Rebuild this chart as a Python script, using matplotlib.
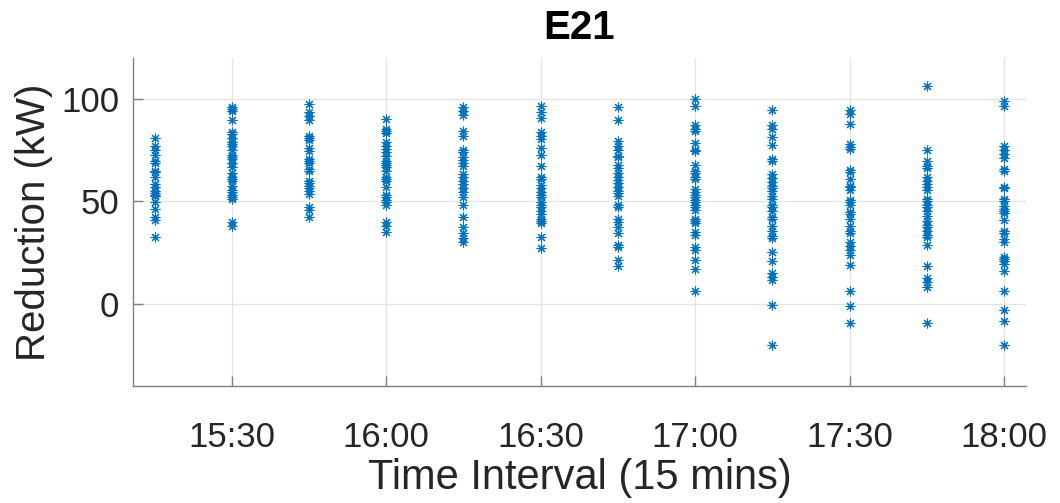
import matplotlib
matplotlib.use("Agg")
import matplotlib.pyplot as plt
import numpy as np

plt.rcParams['font.family'] = ['Liberation Sans', 'DejaVu Sans']

# Interval start times (15-minute steps) and the reductions observed in each
intervals = ["15:15", "15:30", "15:45", "16:00", "16:15", "16:30",
             "16:45", "17:00", "17:15", "17:30", "17:45", "18:00"]

r_1515 = [81, 77.2, 75.1, 72.8, 69.9, 68.6, 64.7, 64.2, 61.8, 58.5, 56.9, 55.3,
          54, 53.3, 52.5, 49.6, 46.3, 42.3, 41.1, 32.8]
r_1530 = [96.3, 95.1, 94, 89.8, 84.1, 82.9, 81, 78.9, 78, 77.2, 75.1, 72.8, 71.8,
          70.7, 68.6, 66.7, 63.7, 61.8, 61, 59.8, 57.7, 55.6, 54.5, 53.3, 52.4,
          51.2, 39.8, 38.2]
r_1545 = [97.6, 93.5, 91.9, 89.8, 82.1, 81, 80, 76.1, 74.8, 70.7, 69.9, 68.6,
          65.9, 64.7, 60.2, 58.9, 57.7, 56.6, 55.3, 53.7, 47.2, 45.9, 42.3]
r_1600 = [90.2, 85.4, 84.2, 83.3, 78.9, 77.2, 75.6, 74, 72.4, 69.9, 68.6, 68,
          66.7, 65, 62.1, 61, 60.2, 56.9, 53.3, 52, 50.7, 49.6, 48.5, 39.8, 38.2, 35]
r_1615 = [96.3, 94.3, 92.4, 84.6, 82.1, 75.1, 74, 71.9, 70.2, 68.6, 67.5, 63.4,
          62.1, 59.8, 58.5, 56.6, 54.5, 52, 48.5, 42.3, 37.7, 34.5, 32.2, 30.1]
r_1630 = [96.7, 93.5, 90.6, 83.7, 82.1, 80.5, 76.1, 72.8, 67.5, 62.1, 61, 58.2,
          56.6, 54.5, 53.3, 52, 49.6, 48.5, 47.2, 45.5, 43.9, 41.5, 40.3, 39.3,
          32.8, 27.3]
r_1645 = [96.3, 89.8, 79.3, 77.2, 75.1, 72.4, 71.9, 68, 66.3, 63.7, 62.1, 60.5,
          58.9, 56.9, 55.3, 54, 52.8, 48.5, 47.5, 41.5, 39.8, 37.4, 34.5, 28.9,
          28, 21.5, 18.7]
r_1700 = [100, 96.7, 87.5, 85.4, 84.2, 78.4, 75.1, 74.5, 68, 64.7, 63.7, 62.1,
          61, 56.1, 54.5, 53.3, 52, 50.7, 49.6, 48.5, 47.2, 45.9, 41.5, 40.3,
          39.3, 35, 33.8, 27.6, 26.3, 21.5, 17.1, 6.2]
r_1715 = [94.6, 87.5, 85.4, 81.6, 77.7, 70.7, 69.6, 63.4, 61.5, 59.3, 57.7, 56.6,
          55, 52.8, 51.2, 48.5, 47.2, 45.5, 42.6, 41.5, 38.2, 35.8, 33.3, 32.2,
          25.2, 20.8, 15, 13.3, 11.7, -0.3, -19.8]
r_1730 = [94.6, 92.7, 87.8, 78, 76.7, 75.6, 65.4, 64.2, 61, 57.7, 56.9, 55.6,
          50.7, 49.6, 48.5, 44.7, 43.9, 41.5, 38.2, 35.8, 34.5, 30.1, 28.5, 26.3,
          24.1, 19.2, 6.2, -0.8, -9.4]
r_1745 = [106.5, 75.1, 69.6, 67.5, 66.3, 61.8, 60.2, 58.5, 56.9, 55.6, 51.2,
          50.1, 48.5, 47.2, 45.5, 43.1, 40.7, 38.7, 37.4, 35.8, 33.8, 32.5, 28.9,
          18.7, 12.7, 10.6, 8.1, -9.4]
r_1800 = [98.9, 96.7, 77.2, 75.1, 73.2, 71.2, 65.9, 64.7, 57.2, 56.6, 51.2, 50.1,
          48, 46.3, 45.2, 44.2, 41, 35.8, 34.5, 31.7, 30.1, 23.1, 22, 20.8, 19.5,
          15.9, 6.2, -2.9, -8.1, -19.8]

reductions = [r_1515, r_1530, r_1545, r_1600, r_1615, r_1630,
              r_1645, r_1700, r_1715, r_1730, r_1745, r_1800]

tick_labels = ["15:30", "16:00", "16:30", "17:00", "17:30", "18:00"]


def to_minutes(hhmm):
    h, m = hhmm.split(":")
    return int(h) * 60 + int(m)


blue = "#0072BD"
axis_gray = "#262626"

fig = plt.figure(figsize=(10.6, 5.03), dpi=100)
ax = fig.add_axes([0.1255, 0.2326, 0.8425, 0.6521])

for t, vals in zip(intervals, reductions):
    x = np.full(len(vals), to_minutes(t))
    ax.plot(x, vals, linestyle="none", marker=(8, 2, 0), markersize=7,
            markeredgewidth=0.8, color=blue)

ax.set_xlim(to_minutes("15:15") - 4.2, to_minutes("18:00") + 4.3)
ax.set_ylim(-40, 120)
ax.set_xticks([to_minutes(t) for t in tick_labels])
ax.set_xticklabels(tick_labels)
ax.set_yticks([0, 50, 100])

ax.grid(True, color="#e3e3e3", linewidth=0.9)
ax.set_axisbelow(True)
for side in ("top", "right"):
    ax.spines[side].set_visible(False)
for side in ("left", "bottom"):
    ax.spines[side].set_color("#808080")
    ax.spines[side].set_linewidth(1.0)

ax.tick_params(direction="in", length=7, width=1.0, color="#808080",
               labelsize=25, labelcolor=axis_gray)
ax.tick_params(axis="x", pad=25)
ax.tick_params(axis="y", pad=10)

ax.set_xlabel("Time Interval (15 mins)", fontsize=30, color=axis_gray, labelpad=3)
ax.set_ylabel("Reduction (kW)", fontsize=29, color=axis_gray, labelpad=6)
ax.set_title("E21", fontsize=29, fontweight="bold", color="black", pad=14)

fig.savefig("out.png", dpi=100)
